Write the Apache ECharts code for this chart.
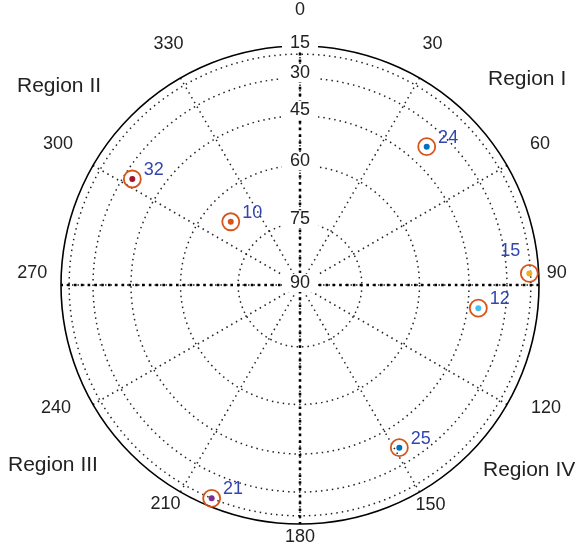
<!DOCTYPE html>
<html>
<head>
<meta charset="utf-8">
<script src="https://cdn.jsdelivr.net/npm/echarts@6/dist/echarts.min.js"></script>
<style>
  html, body { margin: 0; padding: 0; background: #fff; }
  #chart { width: 582px; height: 552px; }
</style>
</head>
<body>
<div id="chart"></div>
<script>
// Satellite sky plot: azimuth clockwise from north, elevation projected as cos(elevation)
const satIds      = ['24', '32', '10', '15', '12', '25', '21'];
const azimuths    = [42.5, 302.3, 312.4, 87.1, 97.4, 148.6, 202.5];
const elevations  = [38.3, 33.9, 66.9, 16.1, 41.2, 37.1, 15.0];
const dotColors   = ['#0072BD', '#A2142F', '#D95319', '#EDB120', '#4DBEEE', '#0072BD', '#7E2F8E'];
const ringElevations = [15, 30, 45, 60, 75, 90];
const azimuthTicks   = [0, 30, 60, 90, 120, 150, 180, 210, 240, 270, 300, 330];
const regionNames = ['Region I', 'Region II', 'Region III', 'Region IV'];

const FONT = 'Liberation Sans, Arial, sans-serif';
const TEXT = '#222';
const toRad = d => d * Math.PI / 180;
const project = e => Math.cos(toRad(e));

const satPoints = azimuths.map((az, i) => [project(elevations[i]), az]);
const ringValues = ringElevations.filter(e => e < 90).map(project);

// small vertical nudges for the elevation labels sitting on the north spoke
const ringLabelNudge = [-11, -5, -6, -4, -4, -2];
// azimuth labels sit at 1.15 x the horizon radius, with small pixel nudges
const AZ_LABEL_RADIUS = 1.15;
const azLabelNudge = [[0, 0], [-5, -3], [2, -4], [-18, -12], [8, -14], [-7, -18],
                      [0, -23], [3, -19], [-6, -14], [7, -12], [-4, -4], [6, -3]];

const ringDots = { color: '#222', width: 1.5, type: [1.5, 4] };
const axisDots = { color: '#000', width: 2.6, type: [2.6, 4.2] };

const chart = echarts.init(document.getElementById('chart'));
chart.setOption({
  animation: false,
  backgroundColor: '#fff',
  polar: { center: [300, 285], radius: 239 },
  angleAxis: {
    type: 'value', min: 0, max: 360, interval: 30,
    startAngle: 90, clockwise: true,
    axisLine: { show: true, lineStyle: { color: '#000', width: 1.6 } },
    axisTick: { show: false },
    axisLabel: { show: false },
    splitLine: { show: true, lineStyle: ringDots }
  },
  radiusAxis: {
    type: 'value', min: 0, max: 1,
    axisLine: { show: false },
    axisLabel: { show: false },
    axisTick: { show: false, customValues: ringValues },
    splitLine: { show: true, lineStyle: ringDots }
  },
  graphic: [
    { type: 'text', left: 488, top: 69,  style: { text: regionNames[0], font: '21px ' + FONT, fill: TEXT } },
    { type: 'text', left: 17,  top: 76,  style: { text: regionNames[1], font: '21px ' + FONT, fill: TEXT } },
    { type: 'text', left: 8,   top: 455, style: { text: regionNames[2], font: '21px ' + FONT, fill: TEXT } },
    { type: 'text', left: 483, top: 460, style: { text: regionNames[3], font: '21px ' + FONT, fill: TEXT } }
  ],
  series: [
    {
      // north-south axis
      type: 'line', coordinateSystem: 'polar', symbol: 'none', z: 3, silent: true,
      lineStyle: axisDots,
      data: [[1, 0], [1, 180]]
    },
    {
      // east-west axis
      type: 'line', coordinateSystem: 'polar', symbol: 'none', z: 3, silent: true,
      lineStyle: axisDots,
      data: [[1, 90], [1, 270]]
    },
    {
      // azimuth labels around the horizon
      type: 'scatter', coordinateSystem: 'polar', symbolSize: 0, z: 5, silent: true,
      clip: false,
      itemStyle: { opacity: 1 },
      data: azimuthTicks.map((a, i) => ({
        value: [AZ_LABEL_RADIUS, a],
        label: { offset: azLabelNudge[i] }
      })),
      label: {
        show: true, position: 'inside',
        formatter: p => String(azimuthTicks[p.dataIndex]),
        color: TEXT, fontSize: 18, fontFamily: FONT
      }
    },
    {
      // elevation ring labels along the north spoke
      type: 'scatter', coordinateSystem: 'polar', symbolSize: 0, z: 5, silent: true,
      clip: false,
      itemStyle: { opacity: 1 },
      data: ringElevations.map((e, i) => ({
        value: [project(e), 0],
        label: { offset: [0, ringLabelNudge[i]] }
      })),
      label: {
        show: true, position: 'inside',
        formatter: p => String(ringElevations[p.dataIndex]),
        color: TEXT, fontSize: 18, fontFamily: FONT,
        backgroundColor: '#fff', padding: [0, 8]
      }
    },
    {
      // satellite markers with their PRN labels
      type: 'scatter', coordinateSystem: 'polar', symbol: 'circle', symbolSize: 17, z: 6,
      clip: false,
      data: satPoints.map((pt, i) => (satIds[i] === '15'
        ? { value: pt, label: { position: 'inside', offset: [-19, -22] } }
        : { value: pt })),
      itemStyle: { color: 'rgba(0,0,0,0)', borderColor: '#D95319', borderWidth: 1.8, opacity: 1 },
      label: {
        show: true, position: 'right', distance: 2, offset: [0, -9],
        formatter: p => satIds[p.dataIndex],
        color: '#3446AE', fontSize: 18, fontFamily: FONT
      }
    },
    {
      type: 'scatter', coordinateSystem: 'polar', symbol: 'circle', symbolSize: 6, z: 7,
      clip: false,
      data: satPoints.map((pt, i) => ({ value: pt, itemStyle: { color: dotColors[i], opacity: 1 } }))
    }
  ]
});
</script>
</body>
</html>
